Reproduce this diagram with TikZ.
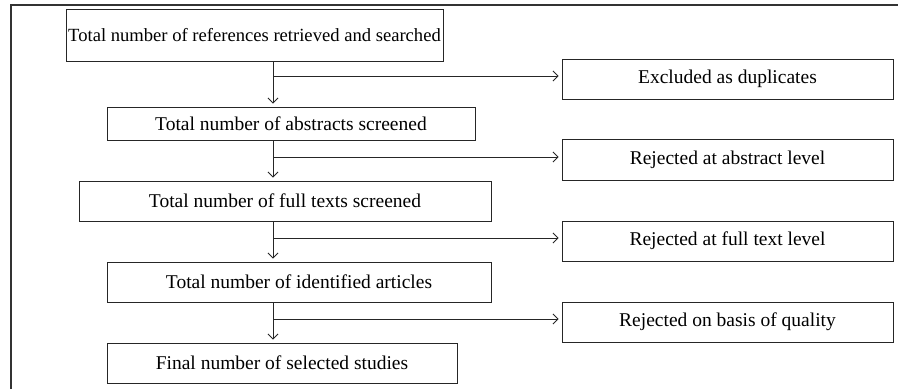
\documentclass[tikz,border=0pt]{standalone}
\usepackage{fontspec}
\setmainfont{Liberation Serif}
\usetikzlibrary{arrows.meta}
\begin{document}
\begin{tikzpicture}[x=1pt, y=-1pt,
    every node/.style={font=\fontsize{19.5}{22}\selectfont},
    stage/.style={rectangle, draw=black!85, line width=0.9pt, inner sep=0pt, minimum height=40pt},
    flow/.style={-{Straight Barb[length=5pt, width=10pt]}, draw=black!85, line width=0.8pt, shorten >=3pt}]
    % Fix the size of the picture and draw the frame.
    \useasboundingbox (0,0) rectangle (907,389);
    \draw[black!80, line width=1.2pt] (11,389) -- (11,5) -- (898,5);
    % Draw the main stages, top to bottom.
    \node[stage, minimum width=377pt, minimum height=52pt, font=\fontsize{18.6}{22}\selectfont] (refs) at (254.5,35) {Total number of references retrieved and searched};
    \node[stage, minimum width=368pt, minimum height=33pt] (abstracts) at (291,123.5) {Total number of abstracts screened};
    \node[stage, minimum width=412pt] (fulltexts) at (285,201) {Total number of full texts screened};
    \node[stage, minimum width=384pt] (identified) at (299,282) {Total number of identified articles};
    \node[stage, minimum width=350pt] (selected) at (282,363) {Final number of selected studies};
    % Draw the boxes of the excluded references.
    \node[stage, minimum width=331pt] (dupl) at (727.5,79) {Excluded as duplicates};
    \node[stage, minimum width=331pt, minimum height=41pt] (rejabs) at (727.5,160) {Rejected at abstract level};
    \node[stage, minimum width=331pt] (rejfull) at (727.5,241) {Rejected at full text level};
    \node[stage, minimum width=331pt] (rejqual) at (727.5,322) {Rejected on basis of quality};
    % The vertical flow runs down one line.
    \coordinate (spine) at (273,0);
    \draw[flow] (refs.south -| spine) -- (abstracts.north -| spine);
    \draw[flow] (abstracts.south -| spine) -- (fulltexts.north -| spine);
    \draw[flow] (fulltexts.south -| spine) -- (identified.north -| spine);
    \draw[flow] (identified.south -| spine) -- (selected.north -| spine);
    % Draw the branches to the excluded references.
    \foreach \rej in {dupl, rejabs, rejfull, rejqual} {
        \coordinate (\rej-in) at ([yshift=3pt]\rej.west);
        \draw[flow] (spine |- \rej-in) -- (\rej-in);
    }
\end{tikzpicture}
\end{document}
